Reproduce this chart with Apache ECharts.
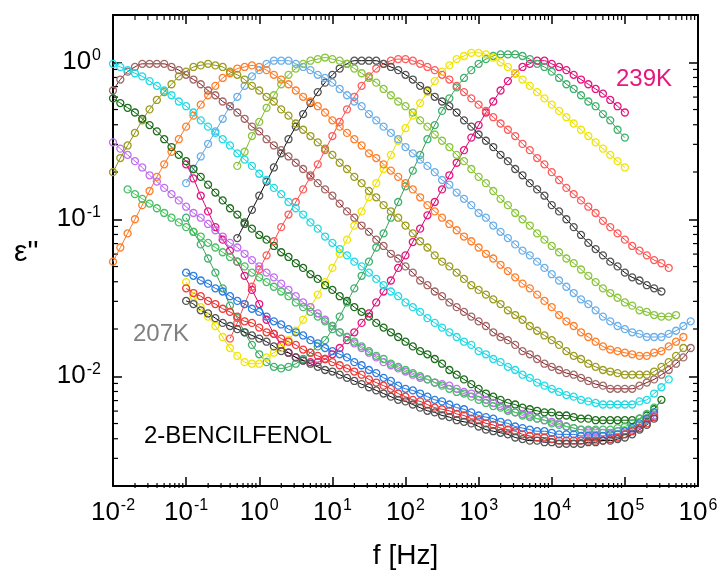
<!DOCTYPE html>
<html>
<head>
<meta charset="utf-8">
<script src="https://cdn.jsdelivr.net/npm/echarts@6/dist/echarts.min.js"></script>
<style>
  html, body { margin: 0; padding: 0; background: #fff; }
  #chart { width: 721px; height: 575px; }
</style>
</head>
<body>
<div id="chart"></div>
<script>
// measured frequency grid, log10(f / Hz)
const logFreq = [
  -2.0, -1.9, -1.8, -1.7, -1.6, -1.5, -1.4, -1.3, -1.2, -1.1,
  -1.0, -0.9, -0.8, -0.7, -0.6, -0.5, -0.4, -0.3, -0.2, -0.1,
  0.0, 0.1, 0.2, 0.3, 0.4, 0.5, 0.6, 0.7, 0.8, 0.9,
  1.0, 1.1, 1.2, 1.3, 1.4, 1.5, 1.6, 1.7, 1.8, 1.9,
  2.0, 2.1, 2.2, 2.3, 2.4, 2.5, 2.6, 2.7, 2.8, 2.9,
  3.0, 3.1, 3.2, 3.3, 3.4, 3.5, 3.6, 3.7, 3.8, 3.9,
  4.0, 4.1, 4.2, 4.3, 4.4, 4.5, 4.6, 4.7, 4.8, 4.9,
  5.0, 5.1, 5.2, 5.3, 5.4, 5.5, 5.6, 5.7, 5.8, 5.9, 6.0
];

// log10(eps'') per temperature, starting at logFreq[firstIdx[k]]
const e239 = [
  -0.65, -0.74, -0.85, -0.95, -1.05, -1.13, -1.20, -1.27, -1.36, -1.45,
  -1.54, -1.64, -1.73, -1.80, -1.85, -1.88, -1.90, -1.91, -1.91, -1.89,
  -1.86, -1.82, -1.77, -1.72, -1.66, -1.60, -1.53, -1.46, -1.39, -1.31,
  -1.23, -1.145, -1.06, -0.975, -0.89, -0.81, -0.72, -0.64, -0.56, -0.48,
  -0.40, -0.32, -0.25, -0.18, -0.12, -0.07, -0.03, -0.01, 0.01, 0.01,
  -0.01, -0.03, -0.05, -0.08, -0.11, -0.14, -0.17, -0.20, -0.24, -0.28,
  -0.32
];
const e237 = [
  -0.99, -1.08, -1.16, -1.25, -1.34, -1.44, -1.55, -1.63, -1.72, -1.80,
  -1.86, -1.91, -1.94, -1.95, -1.94, -1.92, -1.89, -1.85, -1.81, -1.77,
  -1.70, -1.62, -1.53, -1.44, -1.36, -1.27, -1.18, -1.09, -0.99, -0.89,
  -0.79, -0.69, -0.59, -0.49, -0.40, -0.31, -0.23, -0.16, -0.10, -0.05,
  -0.01, 0.02, 0.04, 0.05, 0.05, 0.05, 0.04, 0.02, -0.01, -0.03,
  -0.06, -0.10, -0.14, -0.17, -0.21, -0.25, -0.28, -0.33, -0.37, -0.43,
  -0.48
];
const e235 = [
  -1.40, -1.49, -1.56, -1.62, -1.68, -1.75, -1.82, -1.87, -1.91, -1.92,
  -1.92, -1.88, -1.85, -1.82, -1.77, -1.71, -1.64, -1.56, -1.48, -1.40,
  -1.31, -1.22, -1.13, -1.04, -0.95, -0.86, -0.77, -0.68, -0.59, -0.50,
  -0.42, -0.34, -0.26, -0.19, -0.12, -0.06, -0.02, 0.02, 0.04, 0.06,
  0.06, 0.05, 0.03, 0.00, -0.03, -0.07, -0.11, -0.15, -0.19, -0.23,
  -0.27, -0.31, -0.35, -0.39, -0.43, -0.47, -0.51, -0.55, -0.59, -0.63,
  -0.67
];
const e233 = [
  -1.76, -1.66, -1.54, -1.43,
  -1.32, -1.23, -1.14, -1.05, -0.97, -0.89, -0.81, -0.73, -0.65, -0.56,
  -0.47, -0.38, -0.30, -0.22, -0.15, -0.09, -0.04, -0.01, 0.01, 0.02,
  0.02, 0.01, -0.01, -0.03, -0.05, -0.08, -0.11, -0.15, -0.19, -0.23,
  -0.27, -0.31, -0.35, -0.39, -0.43, -0.47, -0.52, -0.56, -0.61, -0.65,
  -0.70, -0.75, -0.80, -0.84, -0.88, -0.92, -0.96, -1.01, -1.05, -1.09,
  -1.13, -1.17, -1.20, -1.23, -1.26, -1.28, -1.31
];
const e231 = [
  -1.12, -1.03, -0.94,
  -0.85, -0.76, -0.67, -0.58, -0.49, -0.41, -0.33, -0.26, -0.19, -0.13,
  -0.08, -0.04, -0.01, 0.01, 0.01, 0.01, 0.01, -0.01, -0.03, -0.05,
  -0.08, -0.11, -0.15, -0.18, -0.22, -0.25, -0.28, -0.32, -0.37, -0.41,
  -0.46, -0.50, -0.54, -0.59, -0.63, -0.68, -0.72, -0.77, -0.81, -0.85,
  -0.91, -0.95, -1.00, -1.05, -1.10, -1.15, -1.19, -1.23, -1.27, -1.30,
  -1.34, -1.37, -1.39, -1.42, -1.44, -1.46
];
const e229 = [
  -0.66, -0.57, -0.47,
  -0.38, -0.29, -0.21, -0.14, -0.08, -0.04, -0.01, 0.01, 0.02, 0.03,
  0.02, 0.01, -0.01, -0.04, -0.07, -0.10, -0.13, -0.17, -0.21, -0.25,
  -0.28, -0.32, -0.37, -0.41, -0.46, -0.50, -0.54, -0.59, -0.63, -0.68,
  -0.73, -0.77, -0.82, -0.87, -0.91, -0.96, -1.00, -1.04, -1.09, -1.13,
  -1.17, -1.21, -1.25, -1.28, -1.32, -1.36, -1.40, -1.44, -1.47, -1.50,
  -1.53, -1.55, -1.58, -1.59, -1.61, -1.62, -1.62, -1.61
];
const e227 = [
  -0.77, -0.68, -0.60, -0.52, -0.44, -0.36, -0.28, -0.22, -0.15, -0.09,
  -0.05, -0.01, 0.01, 0.01, 0.01, -0.01, -0.03, -0.05, -0.08, -0.10,
  -0.13, -0.17, -0.21, -0.25, -0.28, -0.33, -0.37, -0.41, -0.45, -0.49,
  -0.54, -0.58, -0.62, -0.66, -0.70, -0.75, -0.78, -0.83, -0.87, -0.91,
  -0.96, -0.99, -1.04, -1.08, -1.12, -1.16, -1.20, -1.23, -1.27, -1.31,
  -1.35, -1.39, -1.43, -1.47, -1.51, -1.54, -1.58, -1.62, -1.65, -1.68,
  -1.70, -1.72, -1.73, -1.75, -1.75, -1.75, -1.73, -1.71, -1.68, -1.65
];
const e225 = [
  -1.27, -1.18, -1.09, -1.00, -0.91, -0.82, -0.73, -0.65, -0.57, -0.49,
  -0.41, -0.34, -0.27, -0.21, -0.15, -0.10, -0.07, -0.04, -0.03, -0.02,
  -0.03, -0.05, -0.08, -0.11, -0.14, -0.18, -0.22, -0.25, -0.28, -0.32,
  -0.37, -0.41, -0.45, -0.49, -0.53, -0.58, -0.61, -0.65, -0.69, -0.73,
  -0.77, -0.81, -0.86, -0.91, -0.95, -0.99, -1.03, -1.07, -1.11, -1.14,
  -1.18, -1.22, -1.25, -1.29, -1.33, -1.37, -1.41, -1.44, -1.48, -1.52,
  -1.56, -1.61, -1.65, -1.68, -1.72, -1.75, -1.78, -1.81, -1.83, -1.84,
  -1.85, -1.86, -1.87, -1.87, -1.85, -1.84, -1.81, -1.78, -1.75
];
const e223 = [
  -0.70, -0.61, -0.53, -0.45, -0.37, -0.30, -0.24, -0.19, -0.14, -0.09,
  -0.06, -0.03, -0.02, -0.01, -0.02, -0.03, -0.06, -0.08, -0.11, -0.15,
  -0.18, -0.22, -0.25, -0.30, -0.34, -0.39, -0.43, -0.47, -0.51, -0.55,
  -0.59, -0.64, -0.68, -0.73, -0.77, -0.82, -0.86, -0.91, -0.95, -0.99,
  -1.04, -1.09, -1.14, -1.18, -1.23, -1.27, -1.30, -1.34, -1.38, -1.42,
  -1.45, -1.48, -1.51, -1.54, -1.58, -1.61, -1.64, -1.68, -1.71, -1.74,
  -1.77, -1.80, -1.84, -1.87, -1.89, -1.92, -1.94, -1.96, -1.97, -1.98,
  -1.99, -1.99, -1.99, -1.99, -1.97, -1.94, -1.91, -1.87, -1.82
];
const e221 = [
  -0.18, -0.11, -0.06, -0.03, -0.01, -0.01, -0.01, -0.01, -0.03, -0.05,
  -0.08, -0.11, -0.14, -0.18, -0.21, -0.25, -0.28, -0.32, -0.36, -0.41,
  -0.44, -0.49, -0.53, -0.56, -0.60, -0.64, -0.68, -0.72, -0.77, -0.81,
  -0.85, -0.90, -0.95, -0.99, -1.04, -1.08, -1.13, -1.17, -1.22, -1.25,
  -1.30, -1.34, -1.39, -1.42, -1.46, -1.49, -1.53, -1.56, -1.59, -1.62,
  -1.65, -1.68, -1.72, -1.75, -1.77, -1.80, -1.84, -1.86, -1.89, -1.92,
  -1.94, -1.96, -1.98, -1.99, -2.01, -2.03, -2.05, -2.06, -2.08, -2.08,
  -2.08, -2.08, -2.06, -2.04, -2.02, -1.99, -1.96, -1.92, -1.88, -1.82
];
const e219 = [
  -0.01, -0.03, -0.05, -0.07, -0.09, -0.12, -0.15, -0.18, -0.21, -0.25,
  -0.28, -0.32, -0.37, -0.41, -0.45, -0.49, -0.53, -0.58, -0.62, -0.66,
  -0.71, -0.75, -0.80, -0.84, -0.89, -0.93, -0.97, -1.02, -1.06, -1.11,
  -1.15, -1.19, -1.23, -1.27, -1.30, -1.34, -1.38, -1.42, -1.46, -1.49,
  -1.53, -1.56, -1.59, -1.63, -1.66, -1.69, -1.72, -1.75, -1.78, -1.80,
  -1.84, -1.86, -1.89, -1.91, -1.94, -1.96, -1.99, -2.01, -2.04, -2.06,
  -2.08, -2.10, -2.12, -2.13, -2.15, -2.16, -2.17, -2.18, -2.18, -2.18,
  -2.18, -2.18, -2.16, -2.15, -2.11, -2.07, -2.02
];
const e217 = [
  -0.23, -0.26, -0.29, -0.32, -0.36, -0.40, -0.44, -0.49, -0.54, -0.59,
  -0.63, -0.68, -0.73, -0.78, -0.83, -0.88, -0.93, -0.97, -1.02, -1.06,
  -1.10, -1.13, -1.17, -1.21, -1.24, -1.28, -1.31, -1.35, -1.38, -1.42,
  -1.45, -1.49, -1.52, -1.56, -1.59, -1.62, -1.66, -1.69, -1.72, -1.75,
  -1.78, -1.81, -1.84, -1.86, -1.89, -1.92, -1.96, -1.99, -2.02, -2.05,
  -2.08, -2.11, -2.13, -2.15, -2.17, -2.18, -2.20, -2.21, -2.22, -2.23,
  -2.23, -2.25, -2.25, -2.26, -2.27, -2.27, -2.28, -2.28, -2.28, -2.28,
  -2.28, -2.28, -2.27, -2.25, -2.21, -2.15
];
const e215 = [
  -0.51, -0.55, -0.59, -0.63, -0.67, -0.72, -0.76, -0.80, -0.84, -0.88,
  -0.92, -0.96, -0.99, -1.03, -1.07, -1.11, -1.15, -1.18, -1.22, -1.26,
  -1.30, -1.34, -1.37, -1.41, -1.45, -1.49, -1.53, -1.56, -1.60, -1.64,
  -1.68, -1.72, -1.75, -1.79, -1.82, -1.85, -1.88, -1.91, -1.93, -1.95,
  -1.97, -1.99, -2.01, -2.02, -2.04, -2.05, -2.06, -2.08, -2.10, -2.11,
  -2.13, -2.15, -2.17, -2.19, -2.21, -2.23, -2.24, -2.25, -2.27, -2.28,
  -2.29, -2.30, -2.32, -2.33, -2.34, -2.35, -2.35, -2.36, -2.36, -2.35,
  -2.35, -2.34, -2.31, -2.28, -2.25
];
const e213 = [
  -0.81, -0.84, -0.87, -0.90, -0.93, -0.96, -0.99, -1.02,
  -1.05, -1.08, -1.11, -1.15, -1.18, -1.21, -1.24, -1.27, -1.30, -1.34,
  -1.37, -1.40, -1.43, -1.46, -1.49, -1.53, -1.56, -1.59, -1.62, -1.65,
  -1.68, -1.72, -1.75, -1.78, -1.81, -1.84, -1.87, -1.89, -1.92, -1.94,
  -1.96, -1.98, -2.00, -2.02, -2.04, -2.06, -2.08, -2.10, -2.11, -2.13,
  -2.15, -2.17, -2.19, -2.20, -2.22, -2.23, -2.25, -2.26, -2.27, -2.28,
  -2.30, -2.31, -2.32, -2.33, -2.34, -2.34, -2.34, -2.34, -2.34, -2.33,
  -2.32, -2.30, -2.27, -2.24, -2.20
];
const e211 = [
  -1.34, -1.36, -1.39, -1.41, -1.44, -1.46, -1.49, -1.52, -1.54, -1.57,
  -1.59, -1.62, -1.65, -1.67, -1.70, -1.72, -1.74, -1.77, -1.79, -1.82,
  -1.84, -1.86, -1.88, -1.91, -1.93, -1.96, -1.98, -2.01, -2.03, -2.06,
  -2.08, -2.09, -2.11, -2.13, -2.15, -2.16, -2.18, -2.20, -2.21, -2.23,
  -2.25, -2.26, -2.27, -2.29, -2.30, -2.32, -2.33, -2.34, -2.35, -2.35,
  -2.36, -2.37, -2.37, -2.37, -2.38, -2.38, -2.38, -2.38, -2.37, -2.37,
  -2.35, -2.33, -2.30, -2.27, -2.23
];
const e209 = [
  -1.44, -1.47, -1.49, -1.52, -1.54, -1.57, -1.59, -1.62, -1.65, -1.66,
  -1.69, -1.72, -1.73, -1.76, -1.78, -1.80, -1.83, -1.85, -1.87, -1.89,
  -1.91, -1.93, -1.95, -1.97, -1.99, -2.02, -2.04, -2.06, -2.08, -2.11,
  -2.13, -2.15, -2.16, -2.18, -2.20, -2.21, -2.22, -2.24, -2.25, -2.27,
  -2.28, -2.30, -2.31, -2.33, -2.34, -2.35, -2.37, -2.38, -2.39, -2.39,
  -2.40, -2.41, -2.41, -2.41, -2.41, -2.41, -2.41, -2.41, -2.40, -2.39,
  -2.37, -2.35, -2.33, -2.30, -2.26
];
const e207 = [
  -1.52, -1.54, -1.58, -1.60, -1.63, -1.66, -1.68, -1.70, -1.72, -1.74,
  -1.76, -1.78, -1.81, -1.84, -1.85, -1.88, -1.90, -1.92, -1.94, -1.96,
  -1.97, -1.99, -2.01, -2.03, -2.05, -2.07, -2.09, -2.11, -2.13, -2.15,
  -2.16, -2.18, -2.20, -2.22, -2.23, -2.25, -2.26, -2.28, -2.29, -2.30,
  -2.32, -2.34, -2.35, -2.36, -2.37, -2.39, -2.40, -2.41, -2.41, -2.42,
  -2.42, -2.43, -2.43, -2.43, -2.43, -2.42, -2.42, -2.41, -2.41, -2.40,
  -2.39, -2.37, -2.34, -2.31, -2.27
];

const temps = [239, 237, 235, 233, 231, 229, 227, 225, 223, 221, 219, 217, 215, 213, 211, 209, 207];
const logEps = [e239, e237, e235, e233, e231, e229, e227, e225, e223, e221, e219, e217, e215, e213, e211, e209, e207];
const firstIdx = [10, 10, 10, 16, 17, 17, 10, 0, 0, 0, 0, 0, 0, 2, 10, 10, 10];

// marker and fit-line colours per temperature
const dotCol = ['#e8157f', '#3cb371', '#f2e600', '#ff5c5c', '#555555', '#8cc63f', '#6cb0ea', '#ff7f2a',
  '#9c9c1e', '#a06a6a', '#20dce6', '#1e6e1e', '#c070f0', '#4cbc6c', '#2a7ee0', '#f03a3a', '#555555'];
const lineCol = ['#d0006e', '#3a9a4a', '#e8dc00', '#ff4040', '#000000', '#7cbc2a', '#5aa2e2', '#ff7020',
  '#8a8a10', '#8b1010', '#10d0dc', '#005a00', '#b860f0', '#30e030', '#1a6ed8', '#e82020', '#000000'];

const FONT = '"Liberation Sans", Arial, sans-serif';
const G = { left: 113, top: 15, right: 698, bottom: 488 };

function powLabel(v) {
  const e = Math.log10(v);
  const r = Math.round(e);
  if (Math.abs(e - r) > 1e-6) return '';
  return '{b|10}{s|' + r + '}';
}
const labelRich = {
  b: { fontSize: 26, fontFamily: FONT, color: '#000', lineHeight: 30 },
  s: { fontSize: 16, fontFamily: FONT, color: '#000', lineHeight: 30, verticalAlign: 'top', padding: [0, 0, 0, 1] }
};

function logAxis(extra) {
  return Object.assign({
    type: 'log',
    logBase: 10,
    axisLine: { show: true, lineStyle: { color: '#000', width: 2 } },
    axisTick: { show: true, inside: true, length: 9, lineStyle: { color: '#000', width: 1.5 } },
    splitLine: { show: false },
    minorTick: { show: false }
  }, extra);
}

const series = temps.map((t, k) => ({
  type: 'line',
  name: t + 'K',
  xAxisIndex: 0,
  yAxisIndex: 0,
  data: logEps[k].map((v, i) => [Math.pow(10, logFreq[firstIdx[k] + i]), Math.pow(10, v)]),
  symbol: 'circle',
  symbolSize: 7,
  smooth: 0.3,
  lineStyle: { color: lineCol[k], width: 1 },
  itemStyle: { color: 'rgba(255,255,255,0)', borderColor: dotCol[k], borderWidth: 1.3 },
  emphasis: { disabled: true },
  z: 2
}));

const chart = echarts.init(document.getElementById('chart'), null, { renderer: 'canvas' });
chart.setOption({
  animation: false,
  backgroundColor: '#fff',
  grid: { left: G.left, top: G.top, width: G.right - G.left, height: G.bottom - G.top, containLabel: false },
  xAxis: [
    logAxis({
      position: 'bottom', min: 0.01, max: 1e6, splitNumber: 8,
      axisLabel: { formatter: powLabel, rich: labelRich, margin: 12, showMinLabel: true, showMaxLabel: true },
      name: 'f [Hz]', nameLocation: 'middle', nameGap: 56,
      nameTextStyle: { fontSize: 28, fontFamily: FONT, color: '#000' }
    }),
    logAxis({ position: 'top', min: 0.01, max: 1e6, splitNumber: 8, axisLabel: { show: false } })
  ],
  yAxis: [
    logAxis({
      position: 'left', min: 0.002, max: 2, splitNumber: 3,
      axisLabel: { formatter: powLabel, rich: labelRich, margin: 12 }
    }),
    logAxis({ position: 'right', min: 0.002, max: 2, splitNumber: 3, axisLabel: { show: false } })
  ],
  series: series
});

// minor ticks at 2..9 of every decade, placed with the axis scales
const minor = [];
for (let d = -2; d < 6; d++) {
  for (let m = 2; m <= 9; m++) {
    const x = chart.convertToPixel({ xAxisIndex: 0 }, m * Math.pow(10, d));
    minor.push({ type: 'line', shape: { x1: x, y1: G.bottom, x2: x, y2: G.bottom - 5 }, style: { stroke: '#000', lineWidth: 1.2 } });
    minor.push({ type: 'line', shape: { x1: x, y1: G.top, x2: x, y2: G.top + 5 }, style: { stroke: '#000', lineWidth: 1.2 } });
  }
}
for (let d = -3; d < 0; d++) {
  for (let m = 2; m <= 9; m++) {
    const v = m * Math.pow(10, d);
    if (v <= 0.002) continue;
    const y = chart.convertToPixel({ yAxisIndex: 0 }, v);
    minor.push({ type: 'line', shape: { x1: G.left, y1: y, x2: G.left + 5, y2: y }, style: { stroke: '#000', lineWidth: 1.2 } });
    minor.push({ type: 'line', shape: { x1: G.right, y1: y, x2: G.right - 5, y2: y }, style: { stroke: '#000', lineWidth: 1.2 } });
  }
}

const texts = [
  { type: 'text', left: 14, top: 238, style: { text: "\u03b5''", fontSize: 30, fontFamily: FONT, fill: '#000' } },
  { type: 'text', x: 616, y: 79, style: { text: '239K', fontSize: 24, fontFamily: FONT, fill: '#e8157f', textVerticalAlign: 'middle' } },
  { type: 'text', x: 133, y: 334, style: { text: '207K', fontSize: 24, fontFamily: FONT, fill: '#808080', textVerticalAlign: 'middle' } },
  { type: 'text', x: 144, y: 436, style: { text: '2-BENCILFENOL', fontSize: 24, fontFamily: FONT, fill: '#000', textVerticalAlign: 'middle' } }
];

chart.setOption({ graphic: minor.concat(texts) });
</script>
</body>
</html>
